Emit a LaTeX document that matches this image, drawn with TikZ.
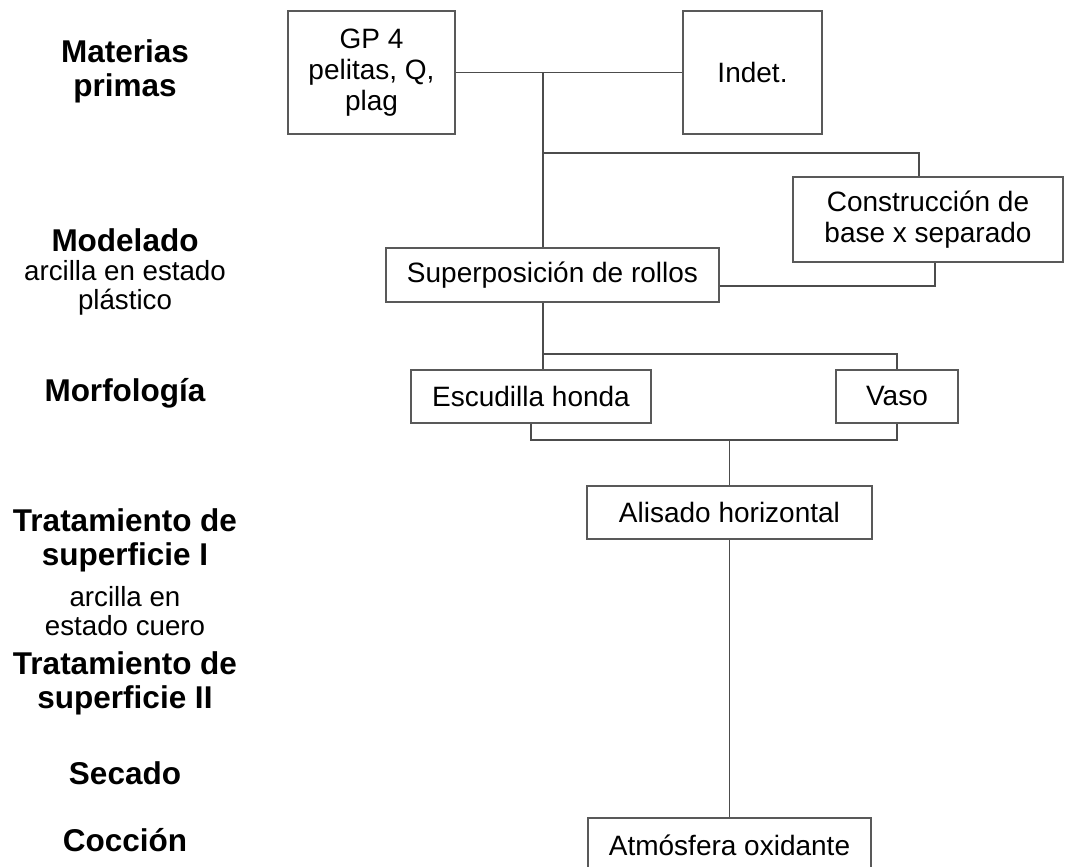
\documentclass[tikz,border=0pt]{standalone}
\usepackage{fontspec}
\setmainfont{Liberation Sans}
\usetikzlibrary{positioning}

\begin{document}
\begin{tikzpicture}[x=0.5pt,y=-0.5pt,
  box/.style={draw=black!65,line width=0.7pt,align=center,inner sep=0pt,
              font=\fontsize{14}{15.6}\selectfont},
  stage/.style={align=center,font=\fontsize{15.75}{17}\selectfont\bfseries},
  note/.style={align=center,font=\fontsize{13.85}{14.5}\selectfont},
  wire/.style={draw=black!70,line width=0.7pt}]
 \useasboundingbox (0,0) rectangle (1066,867);
 % stages
 \node[stage] (mp) at (125,71.5) {Materias\\primas};
 \node[stage] (mo) at (125,240) {Modelado};
 \node[note] (mon) at (125,288) {arcilla en estado\\pl\'astico};
 \node[stage] (mf) at (125,393) {Morfolog\'ia};
 \node[stage] (t1) at (125,540) {Tratamiento de\\superficie I};
 \node[note] (t1n) at (125,611) {arcilla en\\estado cuero};
 \node[stage] (t2) at (125,683.5) {Tratamiento de\\superficie II};
 \node[stage] (se) at (125,773) {Secado};
 \node[stage] (co) at (125,840) {Cocci\'on};
 % boxes
 \node[box,minimum width=83.5pt,minimum height=61.5pt] (gp) at (371.5,72.5) {GP 4\\pelitas, Q,\\plag};
 \node[box,minimum width=69.5pt,minimum height=61.5pt] (ind) at (752.5,72.5) {Indet.};
 \node[box,minimum width=135pt,minimum height=42.5pt] (cb) at (928,219.5) {Construcci\'on de\\base x separado};
 \node[box,minimum width=166.5pt,minimum height=27pt] (sr) at (552.5,275) {Superposici\'on de rollos};
 \node[box,minimum width=120pt,minimum height=26.5pt] (eh) at (531,396.5) {Escudilla honda};
 \node[box,minimum width=61pt,minimum height=26.5pt] (va) at (897,396.5) {Vaso};
 \node[box,minimum width=142.5pt,minimum height=26.5pt] (ah) at (729.5,512.5) {Alisado horizontal};
 \node[box,minimum width=141.5pt,minimum height=27pt] (ao) at (729.5,845) {Atm\'osfera oxidante};
 % joints
 \coordinate (j1) at (543,72.5);
 \coordinate (j2) at (543,153);
 \coordinate (j3) at (919,153);
 \coordinate (j4) at (935,286);
 \coordinate (j5) at (543,354);
 \coordinate (j6) at (897,354);
 \coordinate (j7) at (729.5,440);
 % connectors
 \draw[wire] (gp) -- (ind);
 \draw[wire] (j1) -- (j1 |- sr.north);
 \draw[wire] (j2) -- (j3) -- (j3 |- cb.north);
 \draw[wire] (sr.east |- j4) -- (j4) -- (j4 |- cb.south);
 \draw[wire] (j5 |- sr.south) -- (j5 |- eh.north);
 \draw[wire] (j5) -- (j6) -- (va.north);
 \draw[wire] (eh.south) |- (j7) -| (va.south);
 \draw[wire] (j7) -- (ah.north);
 \draw[wire] (ah.south) -- (ao.north);
\end{tikzpicture}
\end{document}
